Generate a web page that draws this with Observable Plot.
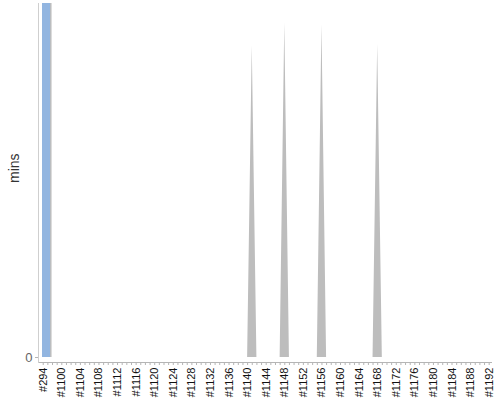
<!DOCTYPE html>
<html><head><meta charset="utf-8">
<script src="https://cdn.jsdelivr.net/npm/d3@7"></script>
<script src="https://cdn.jsdelivr.net/npm/@observablehq/plot@0.6"></script>
<style>body{margin:0;background:#fff}</style>
</head><body><div id="chart"></div>
<script>
// categories (build numbers)
const builds = ["#294", ...d3.range(1097, 1193).map(n => "#" + n)];
const labeledBuilds = ["#294", ...d3.range(1100, 1193, 4).map(n => "#" + n)];
// blue series
const blueBuilds = ["#294"];
const blueMins = [100];
// gray series (non-zero builds; all others 0)
const spikeBuilds = ["#1141", "#1148", "#1156", "#1168"];
const spikeMins = [88, 94.5, 94, 88.5];
const yTicks = [0];

const spikeMap = new Map(spikeBuilds.map((b, i) => [b, spikeMins[i]]));
const grayData = builds.slice(1).map(b => ({build: b, mins: spikeMap.get(b) ?? 0}));
const blueData = blueBuilds.map((b, i) => ({build: b, mins: blueMins[i]}));

const chart = Plot.plot({
  width: 500, height: 400,
  marginTop: 3, marginLeft: 38, marginRight: 9, marginBottom: 38,
  style: {fontFamily: "'Liberation Sans', Arial, sans-serif", fontSize: "11px", background: "#fff", color: "#111"},
  x: {domain: builds, type: "band", padding: 0, insetLeft: 2.4},
  y: {domain: [0, 100], insetBottom: 5},
  marks: [
    Plot.areaY(grayData, {x: "build", y: "mins", fill: "#bdbdbd", curve: "linear"}),
    Plot.barY(blueData, {x: "build", y: "mins", fill: "#bdbdbd", insetLeft: 1.6, insetRight: -6.5}),
    Plot.barY(blueData, {x: "build", y: "mins", fill: "#92b5e0", insetLeft: 1.6, insetRight: -5}),
    Plot.frame({anchor: "bottom", stroke: "#b5b5b5"}),
    Plot.frame({anchor: "left", stroke: "#cfcfcf"}),
    Plot.axisX({ticks: builds, tickSize: 3, tickFormat: () => "", stroke: "#b5b5b5", label: null}),
    Plot.axisX({ticks: labeledBuilds, tickSize: 0, tickRotate: -90, tickPadding: 5, fill: "#111", label: null}),
    Plot.axisY({ticks: yTicks, tickSize: 3, tickPadding: 3, fontSize: 13, fill: "#666", stroke: "#b5b5b5", label: null}),
    Plot.text(["mins"], {frameAnchor: "left", rotate: -90, dx: -24, fontSize: 14, fill: "#333"})
  ]
});
document.getElementById("chart").appendChild(chart);
</script>
</body></html>
